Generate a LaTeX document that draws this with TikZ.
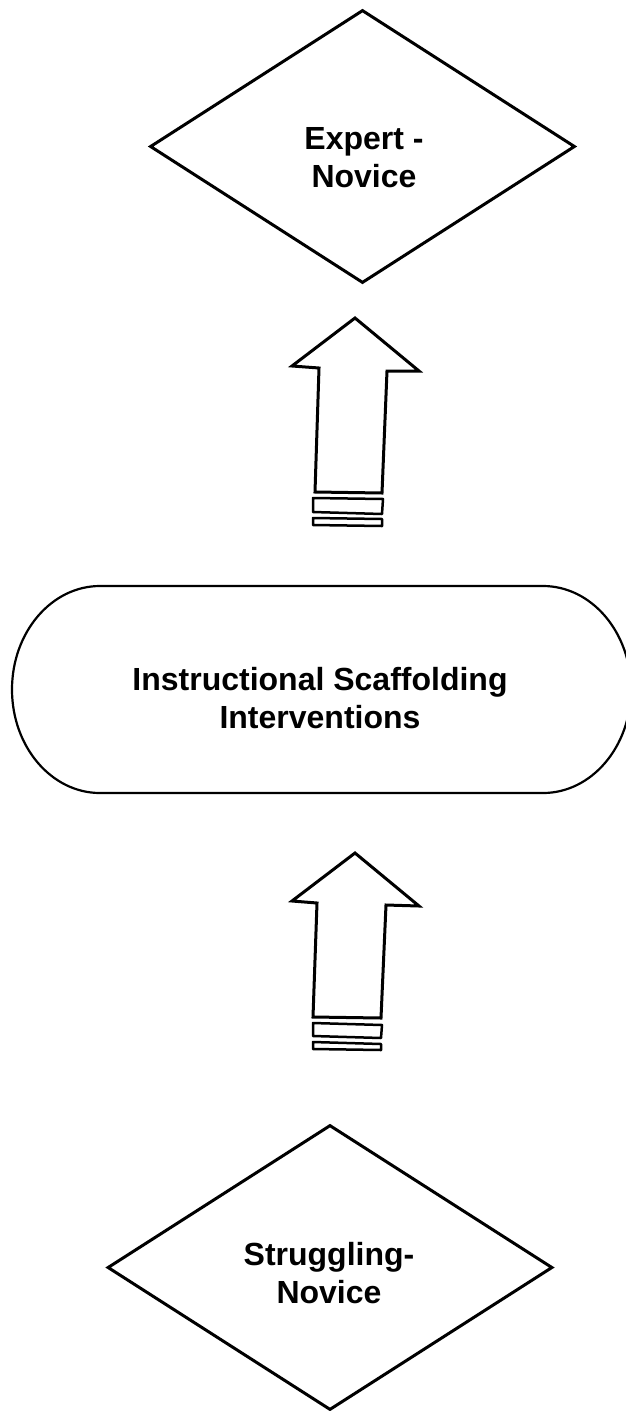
\documentclass[tikz,border=0pt]{standalone}
\usepackage{fontspec}
\setmainfont{Liberation Sans}
\usetikzlibrary{shapes.geometric}
\begin{document}
\begin{tikzpicture}[x=1pt,y=-1pt,
  dia/.style={draw, diamond, line width=3pt, inner sep=0pt, line join=miter},
  lbl/.style={font=\bfseries\fontsize{32}{38}\selectfont, align=center, inner sep=0pt, anchor=north},
  blk/.style={draw, line width=3pt, line join=miter},
  barbox/.style={draw, line width=2.5pt, line join=round},
  capsule/.style={draw, line width=2.2pt}]
\useasboundingbox[fill=white] (0,0) rectangle (626,1411);

% top diamond
\node[dia, minimum width=425pt, minimum height=273pt] (expert) at (362.5,146.5) {};
\node[lbl] (expertlbl) at (364,127.2) {Expert -\\Novice};

% scaffolding capsule
\coordinate (cA) at (100,586);
\coordinate (cB) at (543,586);
\coordinate (cR) at (631,689.5);
\coordinate (cC) at (543,793);
\coordinate (cD) at (100,793);
\coordinate (cL) at (12,689.5);
\draw[capsule] (cA) -- (cB)
  .. controls (591.6,586) and (631,632.3) .. (cR)
  .. controls (631,746.7) and (591.6,793) .. (cC)
  -- (cD)
  .. controls (51.4,793) and (12,746.7) .. (cL)
  .. controls (12,632.3) and (51.4,586) .. (cA) -- cycle;
\node[lbl] (scaf) at (320,667.2) {Instructional Scaffolding\\Interventions};

% bottom diamond
\node[dia, minimum width=445pt, minimum height=285pt] (strug) at (330,1267.5) {};
\node[lbl] (struglbl) at (329,1241.8) {Struggling-\\Novice};

% upper block arrow
\draw[blk] (355,318) coordinate (t1) -- (292,366) -- (319,368) -- (315,492) -- (382,493) -- (387,371) -- (419,371) -- cycle;
\draw[barbox] (313,498) -- (383,499) -- (382,514) -- (313,512) -- cycle;
\draw[barbox] (313,518) -- (382,519) -- (382,526) -- (313,525) -- cycle;

% lower block arrow
\draw[blk] (355,853) coordinate (t2) -- (292,901) -- (317,903) -- (313,1017) -- (381,1018) -- (386,905) -- (419,906) -- cycle;
\draw[barbox] (313,1023) -- (382,1025) -- (381,1038) -- (313,1036) -- cycle;
\draw[barbox] (313,1042) -- (381,1044) -- (381,1050) -- (313,1049) -- cycle;
\end{tikzpicture}
\end{document}
